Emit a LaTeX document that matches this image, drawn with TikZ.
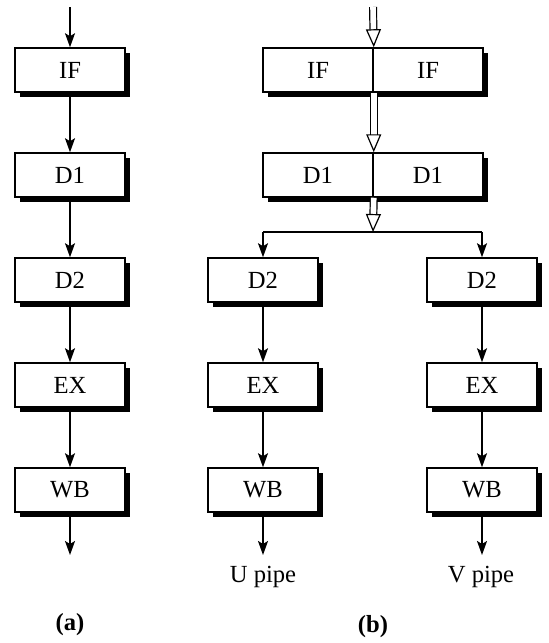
\documentclass[tikz,border=0pt]{standalone}
\usepackage{fontspec}
\setmainfont{Liberation Serif}
\usetikzlibrary{arrows.meta,shadows}

\begin{document}
\begin{tikzpicture}
  [x=0.5pt,y=-0.5pt,
   every node/.style={font=\fontsize{12.3}{14}\selectfont},
   stage/.style={draw,fill=white,line width=0.75pt,minimum width=55pt,minimum height=22pt,inner sep=0pt,
     drop shadow={shadow xshift=2.6pt,shadow yshift=-2.6pt,fill=black,opacity=1}},
   arr/.style={line width=0.8pt,-{Stealth[length=7pt,width=5pt,inset=1.5pt]}},
   dbl/.style={double,double distance=2.8pt,line width=0.6pt,
     -{Triangle[open,length=9pt,width=7.5pt,line width=0.6pt]}}]

  \useasboundingbox (0,0) rectangle (548,643);

  % (a) one pipe
  \node[stage] (ifa) at (70,70)  {IF};
  \node[stage] (d1a) at (70,175) {D1};
  \node[stage] (d2a) at (70,280) {D2};
  \node[stage] (exa) at (70,385) {EX};
  \node[stage] (wba) at (70,490) {WB};
  \coordinate (ina)  at (70,7);
  \coordinate (outa) at (70,555);

  \foreach \from/\to in {ina/ifa,ifa/d1a,d1a/d2a,d2a/exa,exa/wba,wba/outa}
    \draw[arr] (\from) -- (\to);

  % (b) two pipes
  \node[stage] (ifu) at (318,70)  {IF};
  \node[stage] (ifv) at (428,70)  {IF};
  \node[stage] (d1u) at (318,175) {D1};
  \node[stage] (d1v) at (428,175) {D1};
  \node[stage] (d2u) at (263,280) {D2};
  \node[stage] (d2v) at (482,280) {D2};
  \node[stage] (exu) at (263,385) {EX};
  \node[stage] (exv) at (482,385) {EX};
  \node[stage] (wbu) at (263,490) {WB};
  \node[stage] (wbv) at (482,490) {WB};
  \coordinate (inb)   at (373,7);
  \coordinate (split) at (373,232);
  \coordinate (tu)    at (263,232);
  \coordinate (tv)    at (482,232);
  \coordinate (outu)  at (263,555);
  \coordinate (outv)  at (482,555);

  \draw[dbl] (inb) -- (ifu.north east);
  \draw[dbl] (ifu.south east) -- (d1u.north east);
  \draw[dbl] (d1u.south east) -- (split);
  \draw[line width=0.8pt] (tu) -- (tv);

  \foreach \from/\to in {tu/d2u,d2u/exu,exu/wbu,wbu/outu,tv/d2v,d2v/exv,exv/wbv,wbv/outv}
    \draw[arr] (\from) -- (\to);

  \node (upipe) at (263,577) {U pipe};
  \node (vpipe) at (481,577) {V pipe};
  \node (capa)  at (70,625)  {\textbf{(a)}};
  \node (capb)  at (373,627) {\textbf{(b)}};

\end{tikzpicture}
\end{document}
